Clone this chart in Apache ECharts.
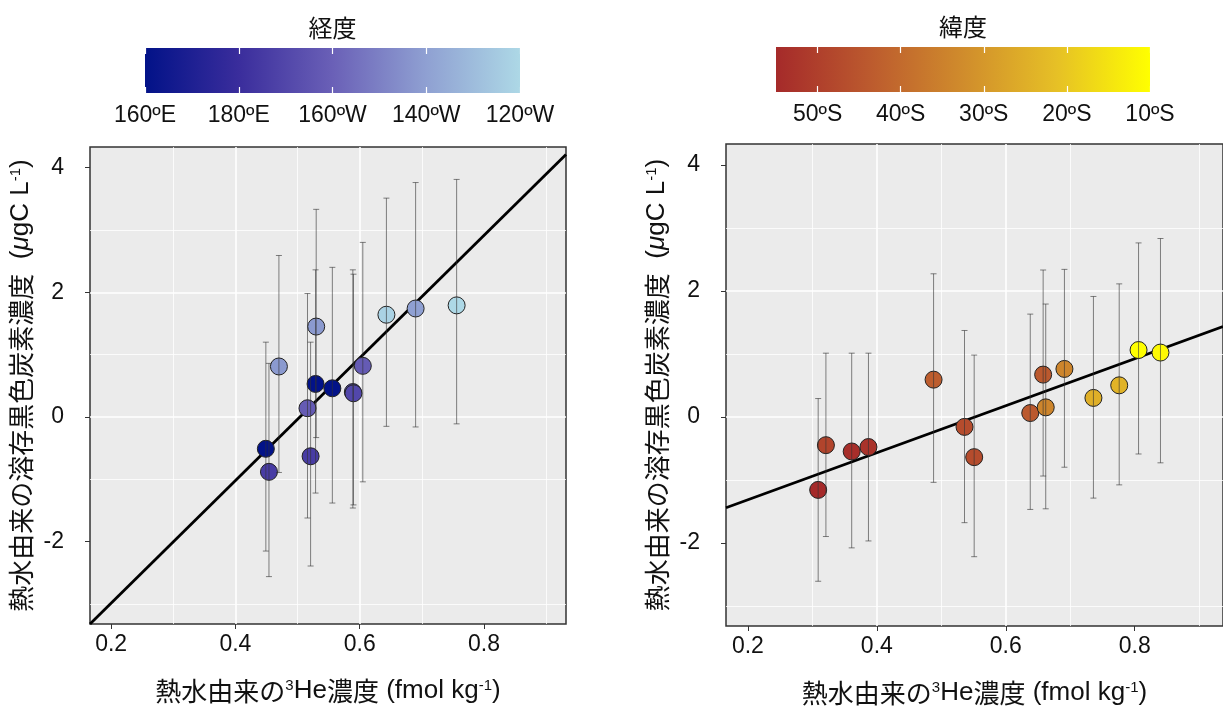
<!DOCTYPE html>
<html>
<head>
<meta charset="utf-8">
<script src="https://cdn.jsdelivr.net/npm/echarts@6/dist/echarts.min.js"></script>
<style>
html, body { margin: 0; padding: 0; background: #fff; }
#chart { width: 1223px; height: 711px; }
</style>
</head>
<body>
<div id="chart"></div>
<script>
// 左：経度で色分け
const lonHe = [0.449, 0.454, 0.470, 0.516, 0.521, 0.529, 0.530, 0.556, 0.589, 0.590, 0.605, 0.643, 0.690, 0.756];
const lonDoc = [-0.51, -0.88, 0.81, 0.14, -0.63, 0.53, 1.45, 0.46, 0.40, 0.38, 0.82, 1.64, 1.74, 1.79];
const lonLow = [-2.15, -2.56, -0.89, -1.62, -2.39, -1.22, -0.33, -1.38, -1.46, -1.41, -1.04, -0.15, -0.16, -0.11];
const lonHigh = [1.20, 0.86, 2.59, 1.98, 1.20, 2.36, 3.33, 2.40, 2.36, 2.29, 2.80, 3.51, 3.76, 3.81];
const lonValue = [160, 186, 218, 198, 186, 160, 218, 160, 190, 190, 198, 238, 220, 240];
const lonFit = [-4.95, 9.83]; // 切片, 傾き

// 右：緯度で色分け
const latHe = [0.309, 0.321, 0.361, 0.387, 0.488, 0.536, 0.551, 0.638, 0.658, 0.662, 0.691, 0.736, 0.776, 0.806, 0.840];
const latDoc = [-1.16, -0.45, -0.55, -0.48, 0.59, -0.16, -0.64, 0.06, 0.67, 0.15, 0.76, 0.30, 0.50, 1.06, 1.02];
const latLow = [-2.61, -1.90, -2.08, -1.97, -1.04, -1.68, -2.22, -1.47, -0.94, -1.46, -0.80, -1.29, -1.08, -0.59, -0.73];
const latHigh = [0.29, 1.01, 1.01, 1.01, 2.27, 1.37, 0.98, 1.63, 2.33, 1.79, 2.34, 1.91, 2.11, 2.76, 2.83];
const latValue = [-55, -49, -54, -53, -43, -47, -47, -44, -44, -34, -34, -25, -24, -10, -11];
const latFit = [-2.063, 3.73];

// 軸
const xTicks = [0.2, 0.4, 0.6, 0.8];
const yTicks = [-2, 0, 2, 4];
const xRange = [0.166, 0.932];
const xRangeRight = [0.166, 0.937];
const yRange = [-3.32, 4.33];

// カラーバー
const lonColors = ['#021288', '#3a2d9c', '#6a60b7', '#8fa0d2', '#add8e6'];
const lonRange = [160, 240];
const lonTicks = [160, 180, 200, 220, 240];
const lonLabels = ['160ºE', '180ºE', '160ºW', '140ºW', '120ºW'];
const latColors = ['#a52a2a', '#bc5a2e', '#d08c2c', '#e6c026', '#ffff00'];
const latRange = [-55, -10];
const latTicks = [-50, -40, -30, -20, -10];
const latLabels = ['50ºS', '40ºS', '30ºS', '20ºS', '10ºS'];

const font = "'Liberation Sans', 'Noto Sans CJK JP', sans-serif";
const jpFont = "'Noto Sans CJK JP', 'Liberation Sans', sans-serif";

var chart = echarts.init(document.getElementById('chart'));

function gradient(colors) {
  return {
    type: 'linear', x: 0, y: 0, x2: 1, y2: 0,
    colorStops: colors.map(function (c, i) { return { offset: i / (colors.length - 1), color: c }; })
  };
}

const nameRich = {
  sup: { fontSize: 15, verticalAlign: 'top', fontFamily: font, color: '#111', lineHeight: 26 },
  it: { fontSize: 26, fontStyle: 'italic', fontFamily: font, color: '#111' },
  en: { fontSize: 26, fontFamily: font, color: '#111' }
};
const xName = '熱水由来の{sup|3}{en|He}濃度{en| (fmol kg}{sup|-1}{en|)}';
const yName = '熱水由来の溶存黒色炭素濃度{en|  (}{it|μ}{en|gC L}{sup|-1}{en|)}';

function mainX(gridIndex, range) {
  return {
    type: 'value', gridIndex: gridIndex, min: range[0], max: range[1], splitNumber: 4,
    axisLine: { show: false, onZero: false },
    axisTick: { show: true, length: 5, lineStyle: { color: '#333' }, customValues: xTicks },
    axisLabel: { customValues: xTicks, margin: 9, fontSize: 23, color: '#111', fontFamily: font,
      formatter: function (v) { return v.toFixed(1); } },
    splitLine: { show: true, showMinLine: false, showMaxLine: false, lineStyle: { color: '#fff', width: 1.6 } },
    minorTick: { show: false, splitNumber: 2 },
    minorSplitLine: { show: true, lineStyle: { color: '#fff', width: 0.8 } },
    name: xName, nameLocation: 'middle', nameGap: 54,
    nameTextStyle: { fontSize: 26, fontFamily: jpFont, color: '#111', rich: nameRich }
  };
}

function mainY(gridIndex) {
  return {
    type: 'value', gridIndex: gridIndex, min: yRange[0], max: yRange[1], splitNumber: 4,
    axisLine: { show: false, onZero: false },
    axisTick: { show: true, length: 5, lineStyle: { color: '#333' }, customValues: yTicks },
    axisLabel: { customValues: yTicks, margin: 26, fontSize: 23, color: '#111', fontFamily: font },
    splitLine: { show: true, showMinLine: false, showMaxLine: false, lineStyle: { color: '#fff', width: 1.6 } },
    minorTick: { show: false, splitNumber: 2 },
    minorSplitLine: { show: true, lineStyle: { color: '#fff', width: 0.8 } },
    name: yName, nameLocation: 'middle', nameRotate: 90, nameGap: 56,
    nameTextStyle: { fontSize: 26, fontFamily: jpFont, color: '#111', rich: nameRich }
  };
}

function barX(gridIndex, range, ticks, labels, position, title) {
  return {
    type: 'value', gridIndex: gridIndex, min: range[0], max: range[1], position: position,
    axisLine: { show: false, onZero: false },
    axisTick: { show: true, inside: true, length: 6, lineStyle: { color: '#fff', width: 1.2 }, customValues: ticks },
    axisLabel: position === 'bottom'
      ? { show: true, customValues: ticks, margin: 11, fontSize: 23, color: '#111', fontFamily: font,
          formatter: function (v) { return labels[ticks.indexOf(v)]; } }
      : { show: false },
    splitLine: { show: false },
    name: title, nameLocation: 'middle', nameGap: 8,
    nameTextStyle: { fontSize: 24, fontFamily: jpFont, color: '#111', verticalAlign: 'bottom' }
  };
}

function errorBars(axisIndex, xs, lo, hi) {
  return {
    type: 'custom', xAxisIndex: axisIndex, yAxisIndex: axisIndex, z: 4, clip: true,
    data: xs.map(function (x, i) { return [x, lo[i], hi[i]]; }),
    renderItem: function (params, api) {
      const p0 = api.coord([api.value(0), api.value(1)]);
      const p1 = api.coord([api.value(0), api.value(2)]);
      const style = { stroke: 'rgba(50,50,50,0.6)', lineWidth: 1 };
      return {
        type: 'group', children: [
          { type: 'line', shape: { x1: p0[0], y1: p0[1], x2: p1[0], y2: p1[1] }, style: style },
          { type: 'line', shape: { x1: p0[0] - 3, y1: p0[1], x2: p0[0] + 3, y2: p0[1] }, style: style },
          { type: 'line', shape: { x1: p1[0] - 3, y1: p1[1], x2: p1[0] + 3, y2: p1[1] }, style: style }
        ]
      };
    }
  };
}

function fitLine(axisIndex, fit, range) {
  return {
    type: 'line', xAxisIndex: axisIndex, yAxisIndex: axisIndex, z: 2, symbol: 'none', silent: true,
    lineStyle: { color: '#000', width: 2.8 },
    data: range.map(function (x) { return [x, fit[0] + fit[1] * x]; })
  };
}

function points(axisIndex, xs, ys, vals) {
  return {
    type: 'scatter', xAxisIndex: axisIndex, yAxisIndex: axisIndex, z: 3, symbolSize: 17,
    itemStyle: { borderColor: '#222', borderWidth: 1, opacity: 1 },
    data: xs.map(function (x, i) { return [x, ys[i], vals[i]]; })
  };
}

var option = {
  backgroundColor: '#fff',
  animation: false,
  grid: [
    { left: 90, top: 147, width: 476, height: 477, show: true, backgroundColor: '#ebebeb', borderColor: '#333', borderWidth: 1.5 },
    { left: 726, top: 144, width: 497, height: 482, show: true, backgroundColor: '#ebebeb', borderColor: '#333', borderWidth: 1.5 },
    { left: 145, top: 48, width: 375, height: 45, show: true, backgroundColor: gradient(lonColors), borderWidth: 0 },
    { left: 776, top: 47, width: 374, height: 45, show: true, backgroundColor: gradient(latColors), borderWidth: 0 }
  ],
  xAxis: [
    mainX(0, xRange),
    mainX(1, xRangeRight),
    barX(2, lonRange, lonTicks, lonLabels, 'bottom', ''),
    barX(2, lonRange, lonTicks, lonLabels, 'top', '経度'),
    barX(3, latRange, latTicks, latLabels, 'bottom', ''),
    barX(3, latRange, latTicks, latLabels, 'top', '緯度')
  ],
  yAxis: [
    mainY(0),
    mainY(1),
    { type: 'value', gridIndex: 2, show: false, min: 0, max: 1 },
    { type: 'value', gridIndex: 3, show: false, min: 0, max: 1 }
  ],
  visualMap: [
    { type: 'continuous', show: false, seriesIndex: 1, dimension: 2, min: lonRange[0], max: lonRange[1], inRange: { color: lonColors } },
    { type: 'continuous', show: false, seriesIndex: 4, dimension: 2, min: latRange[0], max: latRange[1], inRange: { color: latColors } }
  ],
  series: [
    fitLine(0, lonFit, xRange),
    points(0, lonHe, lonDoc, lonValue),
    errorBars(0, lonHe, lonLow, lonHigh),
    fitLine(1, latFit, xRangeRight),
    points(1, latHe, latDoc, latValue),
    errorBars(1, latHe, latLow, latHigh)
  ]
};

chart.setOption(option);
</script>
</body>
</html>
